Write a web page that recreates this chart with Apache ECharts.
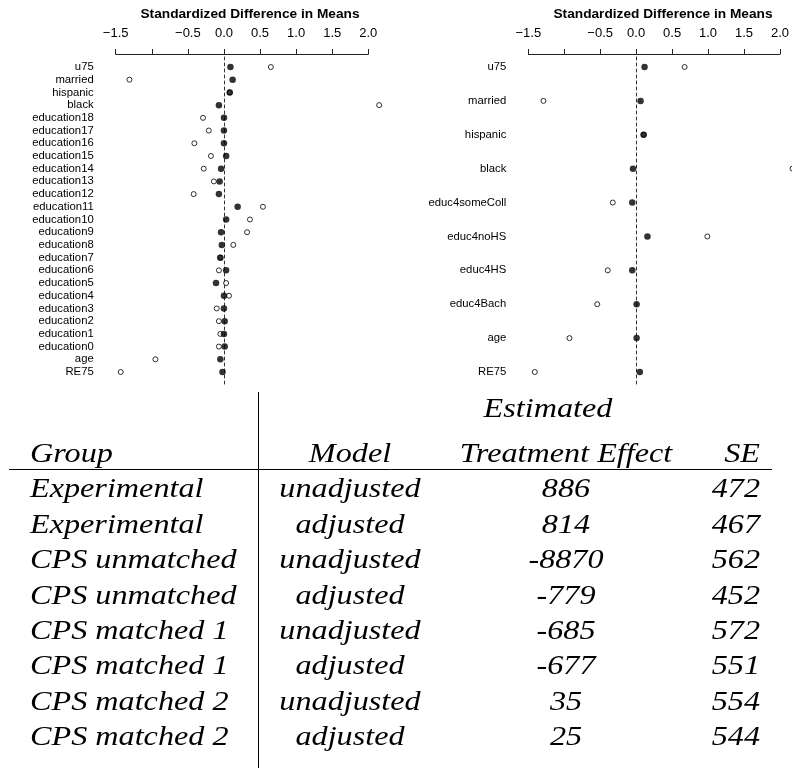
<!DOCTYPE html>
<html><head><meta charset="utf-8">
<script src="https://cdn.jsdelivr.net/npm/echarts@6/dist/echarts.min.js"></script>
<style>html,body{margin:0;padding:0;background:#fff}#c{width:792px;height:776px}</style>
</head><body><div id="c"></div>
<script>
// ---- data ----
const leftCategories = ['u75','married','hispanic','black','education18','education17','education16','education15','education14','education13','education12','education11','education10','education9','education8','education7','education6','education5','education4','education3','education2','education1','education0','age','RE75'];
const leftBefore = [0.65,-1.31,0.08,2.15,-0.29,-0.21,-0.41,-0.18,-0.28,-0.14,-0.42,0.54,0.36,0.32,0.13,-0.05,-0.07,0.03,0.07,-0.10,-0.07,-0.05,-0.07,-0.95,-1.43];
const leftAfter  = [0.09,0.12,0.08,-0.07,0.0,0.0,0.0,0.03,-0.04,-0.06,-0.07,0.19,0.03,-0.04,-0.03,-0.05,0.03,-0.11,0.0,0.0,0.01,0.0,0.01,-0.05,-0.02];

const rightCategories = ['u75','married','hispanic','black','educ4someColl','educ4noHS','educ4HS','educ4Bach','age','RE75'];
const rightBefore = [0.665,-1.29,0.10,2.16,-0.33,0.98,-0.40,-0.545,-0.93,-1.41];
const rightAfter  = [0.11,0.055,0.097,-0.05,-0.06,0.15,-0.06,0.0,0.0,0.045];

const axisTitle = 'Standardized Difference in Means';
const axisMin = -1.5, axisMax = 2.0, axisStep = 0.5;
const hiddenTick = -1.0;

const tableHeaderTop = 'Estimated';
const tableHeaders = ['Group','Model','Treatment Effect','SE'];
const groups = ['Experimental','Experimental','CPS unmatched','CPS unmatched','CPS matched 1','CPS matched 1','CPS matched 2','CPS matched 2'];
const models = ['unadjusted','adjusted','unadjusted','adjusted','unadjusted','adjusted','unadjusted','adjusted'];
const effects = ['886','814','-8870','-779','-685','-677','35','25'];
const ses = ['472','467','562','452','572','551','554','544'];

// ---- chart ----
const chart = echarts.init(document.getElementById('c'), null, {renderer:'canvas'});
const sans = 'Liberation Sans';
const tickFmt = v => (Math.abs(v - hiddenTick) < 1e-9 ? '' : v.toFixed(1).replace('-', '\u2212'));

function axisGridX(gi){
  return {gridIndex:gi, type:'value', min:axisMin, max:axisMax, interval:axisStep, position:'top',
    axisLine:{show:true, onZero:false, lineStyle:{color:'#222', width:1}},
    axisTick:{show:true, length:5, lineStyle:{color:'#222', width:1}},
    axisLabel:{show:true, margin:14.5, fontSize:13, fontFamily:sans, color:'#000', formatter:tickFmt},
    splitLine:{show:false}};
}
function dataGridX(gi){
  return {gridIndex:gi, type:'value', min:axisMin, max:axisMax, show:false, splitLine:{show:false}};
}
function zeroY(gi){
  return {gridIndex:gi, type:'value', min:0, max:1,
    axisLine:{show:true, onZero:true, lineStyle:{color:'#333', width:1, type:[3,3]}},
    axisTick:{show:false}, axisLabel:{show:false}, splitLine:{show:false}};
}
function catY(gi, cats){
  return {gridIndex:gi, type:'category', data:cats, inverse:true, boundaryGap:false,
    axisLine:{show:false}, axisTick:{show:false}, splitLine:{show:false},
    axisLabel:{show:true, margin:22, fontSize:11.3, fontFamily:sans, color:'#000', interval:0}};
}
function openSeries(xi, cats, vals){
  return {type:'scatter', xAxisIndex:xi, yAxisIndex:xi, clip:false, symbol:'circle', symbolSize:5,
    itemStyle:{color:'#fff', borderColor:'#000', borderWidth:1}, z:2,
    data: vals.map((v,i)=>[v, cats[i]])};
}
function filledSeries(xi, cats, vals){
  return {type:'scatter', xAxisIndex:xi, yAxisIndex:xi, clip:false, symbol:'circle', symbolSize:6.5,
    itemStyle:{color:'#000'}, z:3,
    data: vals.map((v,i)=>[v, cats[i]])};
}

// table graphics
const serif = 'Liberation Serif';
const tScale = 1.15, tSize = 28;
function tText(str, x, y, align){
  return {type:'text', x:x, y:y, scaleX:tScale, scaleY:1,
    style:{text:str, fontSize:tSize, fontFamily:serif, fontStyle:'italic', fill:'#000', align:align, verticalAlign:'middle'}};
}
const colGroup = 30, colModel = 350, colEffect = 566, colSE = 760, colEst = 548;
const yEst = 410, yHead = 455, yRow0 = 490, rowStep = 35.4;
const graphics = [];
graphics.push({type:'text', x:250, y:14, style:{text:axisTitle, fontSize:13.7, fontWeight:'bold', fontFamily:sans, fill:'#000', align:'center', verticalAlign:'middle'}});
graphics.push({type:'text', x:663, y:14, style:{text:axisTitle, fontSize:13.7, fontWeight:'bold', fontFamily:sans, fill:'#000', align:'center', verticalAlign:'middle'}});
graphics.push(tText(tableHeaderTop, colEst, yEst, 'center'));
graphics.push(tText(tableHeaders[0], colGroup, yHead, 'left'));
graphics.push(tText(tableHeaders[1], colModel, yHead, 'center'));
graphics.push(tText(tableHeaders[2], colEffect, yHead, 'center'));
graphics.push(tText(tableHeaders[3], colSE, yHead, 'right'));
groups.forEach((g,i)=>{
  const y = yRow0 + i*rowStep;
  graphics.push(tText(g, colGroup, y, 'left'));
  graphics.push(tText(models[i], colModel, y, 'center'));
  graphics.push(tText(effects[i], colEffect, y, 'center'));
  graphics.push(tText(ses[i], colSE, y, 'right'));
});
graphics.push({type:'line', shape:{x1:9, y1:469.5, x2:772, y2:469.5}, style:{stroke:'#000', lineWidth:1}});
graphics.push({type:'line', shape:{x1:258.5, y1:392, x2:258.5, y2:768}, style:{stroke:'#000', lineWidth:1}});

chart.setOption({
  animation:false,
  backgroundColor:'#fff',
  grid:[
    {left:115.7, top:54, width:252.6, height:330},
    {left:115.7, top:67, width:252.6, height:305},
    {left:528.3, top:54, width:252.7, height:330},
    {left:528.3, top:67, width:252.7, height:305}
  ],
  xAxis:[axisGridX(0), dataGridX(1), axisGridX(2), dataGridX(3)],
  yAxis:[zeroY(0), catY(1,leftCategories), zeroY(2), catY(3,rightCategories)],
  series:[
    openSeries(1, leftCategories, leftBefore),
    filledSeries(1, leftCategories, leftAfter),
    openSeries(3, rightCategories, rightBefore),
    filledSeries(3, rightCategories, rightAfter)
  ],
  graphic: graphics
});
</script>
</body></html>
